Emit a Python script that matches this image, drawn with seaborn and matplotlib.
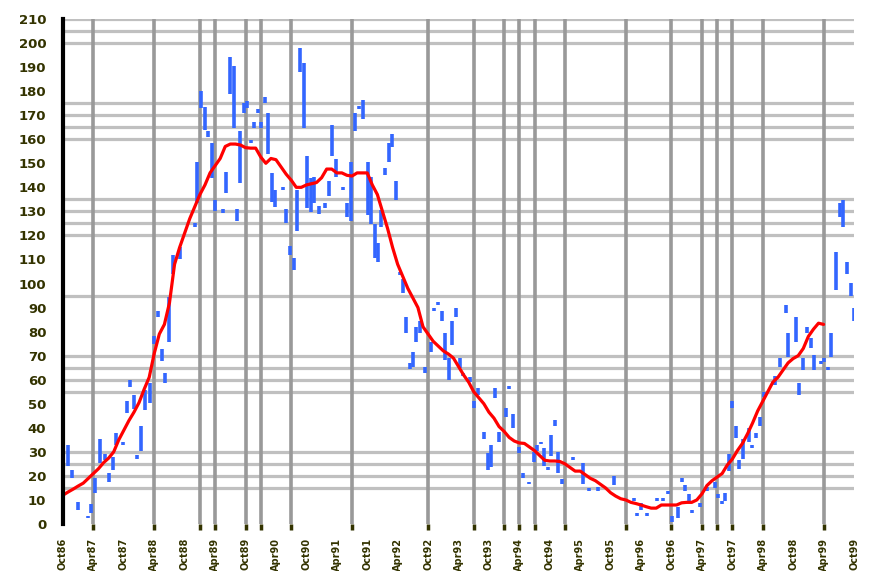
import numpy as np
import pandas as pd
import matplotlib
matplotlib.use("Agg")
import matplotlib.pyplot as plt
import seaborn as sns

# smoothed values, one per month (month 0 .. 150)
smooth_vals = [12, 13.3, 14.5, 15.8, 17, 19, 21, 23, 25.5, 27.4,
               30, 35, 39, 43, 46.5, 50.5, 56, 61, 71, 79,
               83, 92, 108, 115, 121, 127, 132, 137, 141, 146,
               149, 152, 157, 158, 158, 157.6, 156.5, 156.3, 156.3, 152.6,
               150, 152, 151.5, 148.5, 145.5, 143, 140, 140, 141, 141.5,
               142, 144, 147.6, 147.6, 146, 146, 145, 144.7, 146, 146,
               146, 141, 137, 130, 123, 115, 108, 103, 98, 94,
               90, 82, 79, 76, 74, 72, 70.7, 69, 65.5, 62,
               59, 55, 52.5, 50, 46.5, 44, 40.5, 38.5, 36, 34.5,
               33.7, 33.5, 32, 30.5, 28.5, 26.5, 26.2, 26.2, 26, 25,
               23.5, 22, 22, 20.5, 19, 18, 16.5, 15, 13, 11.6,
               10.5, 10, 9, 8.5, 7.9, 7.2, 6.6, 6.6, 7.9, 7.9,
               7.9, 7.9, 8.8, 9, 9, 10, 12.5, 16, 18, 19.5,
               21, 24.5, 27, 30.5, 33.5, 37.5, 42, 47, 51, 55,
               59, 61, 64, 67, 68.8, 70, 73, 78, 81, 83.5, 83]
smooth_month = list(range(len(smooth_vals)))

# monthly spread bars (month, low, high)
bar_month = [0, 0.9, 1.8, 3, 4.9, 5.6, 6.3, 7.3, 8.3, 9.1,
             9.8, 10.5, 11.8, 12.6, 13.3, 14, 14.6, 15.4, 16.2, 17.2,
             18, 18.8, 19.5, 20.2, 20.9, 21.7, 23, 26, 26.5, 27.3,
             28, 28.6, 29.3, 30, 31.5, 32.2, 32.9, 33.7, 34.3, 35,
             35.7, 36.3, 37.1, 37.7, 38.5, 39.1, 39.8, 40.5, 41.2, 41.9,
             43.3, 44, 44.8, 45.5, 46.1, 46.8, 47.5, 48.2, 49, 49.6,
             50.5, 51.7, 52.4, 53.1, 53.8, 55.3, 56.1, 56.8, 57.5, 58.3,
             59.2, 60.1, 60.8, 61.5, 62.2, 62.8, 63.5, 64.3, 64.9, 65.7,
             66.4, 67, 67.7, 68.5, 69, 69.7, 70.4, 71.4, 72.5, 73.2,
             73.9, 74.7, 75.4, 76.1, 76.8, 77.5, 78.2, 78.8, 80.3, 81,
             81.9, 83.1, 83.8, 84.5, 85.2, 85.9, 87.3, 88, 88.7, 89.9,
             90.7, 92, 92.8, 93.5, 94.2, 94.9, 95.6, 96.3, 97, 97.7,
             98.4, 100.5, 102.6, 103.8, 105.6, 108.6, 112.7, 113.2, 113.9, 115.2,
             117.1, 118.4, 119.3, 120.1, 121.3, 122, 122.7, 123.4, 124.1, 125.6,
             127, 128.5, 129.2, 129.9, 130.6, 131.3, 132, 132.7, 133.4, 134.1,
             135.2, 135.9, 136.6, 137.4, 138.2, 140.5, 141.5, 142.6, 143, 144.5,
             145.2, 146, 146.7, 147.5, 148.2, 149.4, 150.1, 150.8, 151.5, 152.4,
             153.3, 153.8, 154.6, 155.4, 156]
bar_low = [3, 24, 19, 5.8, 2.5, 4.5, 13, 25.4, 26.6, 17.5,
           22.5, 32.8, 33, 46, 57, 48, 27, 30.3, 47.4, 50.3,
           74.8, 86, 67.8, 58.6, 75.7, 104, 110, 123.5, 133.5, 173,
           163.8, 161, 144, 130, 129.5, 137.6, 179, 164.7, 126, 141.8,
           171, 173, 158.5, 164.7, 171, 164.7, 175, 154, 134, 132,
           139, 125, 112, 105.6, 122, 188, 164.7, 131.4, 129.7, 133.5,
           129, 131.4, 136.4, 153, 144.3, 139, 127.7, 126, 163.4, 172.5,
           168.4, 128.5, 124.7, 110.6, 109, 123.5, 145, 150.5, 156.8, 134.7,
           103.5, 96, 79.4, 64.4, 65.3, 75.7, 79.4, 62.8, 71.5, 88.6,
           91, 84.4, 68.2, 60, 74.4, 86, 65, 61.5, 59, 48.2,
           53.6, 35.3, 22.5, 23.7, 52.4, 34, 44.5, 56.1, 40, 29.5,
           19, 16.6, 25.8, 30.3, 33.3, 24, 22.5, 28.3, 40.7, 21.2,
           16.6, 26.5, 16.6, 13.7, 13.7, 16.2, 9.6, 3.3, 5.8, 3.3,
           9.6, 9.6, 12.5, 0.8, 2.5, 17.5, 13.7, 9.6, 4.6, 7,
           13.7, 15, 10.8, 8.3, 9.6, 22, 48.2, 35.8, 22.9, 27,
           34, 31.6, 35.8, 40.7, 52.8, 57.8, 65.3, 87.7, 69.4, 75.7,
           53.6, 64, 79.4, 73.2, 64, 66.5, 67.4, 64, 69.4, 97.3,
           127.7, 123.5, 104, 94.8, 84.4]
bar_high = [9, 33, 22.5, 9, 3.5, 8.3, 19, 35.3, 29, 21.2,
            27.8, 37.8, 34.2, 51, 60, 53.6, 28.5, 40.7, 55.7, 58.6,
            78.2, 88.6, 72.8, 62.8, 94.4, 112, 115, 125, 150.5, 180,
            173.4, 163.4, 158.4, 134.7, 130.8, 146.4, 194, 190.4, 131, 163.4,
            175, 176, 159.5, 167, 172.5, 167, 177.5, 171, 146, 139,
            140.2, 131, 115.6, 110.6, 139, 198, 191.7, 153, 143.9, 144.3,
            132.2, 133.5, 142.6, 166, 151.8, 140.2, 133.5, 150.5, 171, 174,
            176.3, 150.5, 144.3, 124.7, 116.8, 130.6, 148, 158.4, 162, 142.6,
            105, 101.8, 86, 67, 71.5, 82, 84.4, 65.3, 75.7, 89.8,
            92.3, 88.6, 79.4, 69, 84.4, 89.8, 69, 62.8, 61, 51,
            56.5, 38.3, 29.5, 32.8, 56.5, 38.3, 48.2, 57.4, 45.7, 32,
            21.2, 17.5, 30, 32.8, 34.2, 31.6, 23.7, 37, 43.2, 30,
            18.7, 27.7, 25.4, 15, 15.4, 20, 10.8, 4.6, 8.7, 4.6,
            10.8, 10.8, 13.7, 3.3, 7, 19, 16.2, 12.5, 5.8, 8.7,
            15.4, 17.5, 12.5, 9.6, 12.9, 29, 51, 40.7, 26.6, 35.3,
            40, 32.8, 38, 44.5, 55, 61.5, 69, 91, 79.4, 86,
            58.6, 69, 82, 77.4, 70.3, 67.7, 69, 65.3, 79.4, 113,
            133.5, 134.7, 109, 100.2, 89.8]

# quarterly marker lines (months) and horizontal reference levels
mark_months = [6, 18, 27, 30, 36, 39, 45, 57, 72, 81, 87, 90, 93, 99,
               111, 120, 126, 129, 132, 138, 150]
ref_levels = [15, 20, 25, 30, 55, 60, 65, 70, 95, 120, 125, 130, 135,
              160, 165, 170, 175, 200, 205, 210]

# x labels every 6 months starting Oct 1986
label_months = list(range(0, 157, 6))
mon_names = ["Jan", "Feb", "Mar", "Apr", "May", "Jun",
             "Jul", "Aug", "Sep", "Oct", "Nov", "Dec"]
x_labels = []
for m in label_months:
    k = 9 + m
    x_labels.append(f"{mon_names[k % 12]}{(86 + k // 12) % 100:02d}")

y_labels = list(range(0, 211, 10))

smooth = pd.DataFrame({"month": smooth_month, "value": smooth_vals})

sns.set_style("white")
plt.rcParams["font.family"] = ["DejaVu Sans"]
txt_col = "#333300"

fig = plt.figure(figsize=(8.71, 5.71), dpi=100)
ax = fig.add_axes([63 / 871, 1 - 524 / 571, (854 - 63) / 871, (524 - 19) / 571])

for lv in ref_levels:
    ax.axhline(lv, color="#c0c0c0", lw=2.3, zorder=1)
for mm in mark_months:
    ax.axvline(mm, color="#999999", lw=2.6, zorder=2)

ax.vlines(bar_month, bar_low, bar_high, color="#3366ff", lw=2.6,
          zorder=3, capstyle="butt")
sns.lineplot(data=smooth, x="month", y="value", color="#ff0000",
             lw=2.3, ax=ax, zorder=4)

ax.set_xlim(0, 156)
ax.set_ylim(0, 210)
ax.set_xlabel("")
ax.set_ylabel("")

for s in ["top", "right", "bottom"]:
    ax.spines[s].set_visible(False)
ax.spines["left"].set_color("black")
ax.spines["left"].set_linewidth(3)
ax.spines["left"].set_zorder(5)

# keep minor ticks even where they share a spot with a major tick
ax.xaxis.remove_overlapping_locs = False
ax.yaxis.remove_overlapping_locs = False

# major ticks = marker lines, minor ticks carry the labels
ax.set_yticks(ref_levels)
ax.set_yticklabels([])
ax.tick_params(axis="y", which="major", length=3, width=2.5, color="black")
ax.set_yticks(y_labels, minor=True)
ax.set_yticklabels([str(v) for v in y_labels], minor=True)
ax.tick_params(axis="y", which="minor", length=0, pad=12,
               labelsize=9.5, labelcolor=txt_col)
for t in ax.get_yticklabels(minor=True):
    t.set_fontweight("bold")

ax.set_xticks(mark_months)
ax.set_xticklabels([])
ax.tick_params(axis="x", which="major", length=4, width=2.5, color=txt_col,
               bottom=True)
ax.set_xticks(label_months, minor=True)
ax.set_xticklabels(x_labels, minor=True, rotation=90)
ax.tick_params(axis="x", which="minor", length=0, pad=10,
               labelsize=7, labelcolor=txt_col, bottom=True)
for t in ax.get_xticklabels(minor=True):
    t.set_fontweight("bold")
    t.set_verticalalignment("top")

ax.grid(False)
fig.savefig("out.png", dpi=100)
